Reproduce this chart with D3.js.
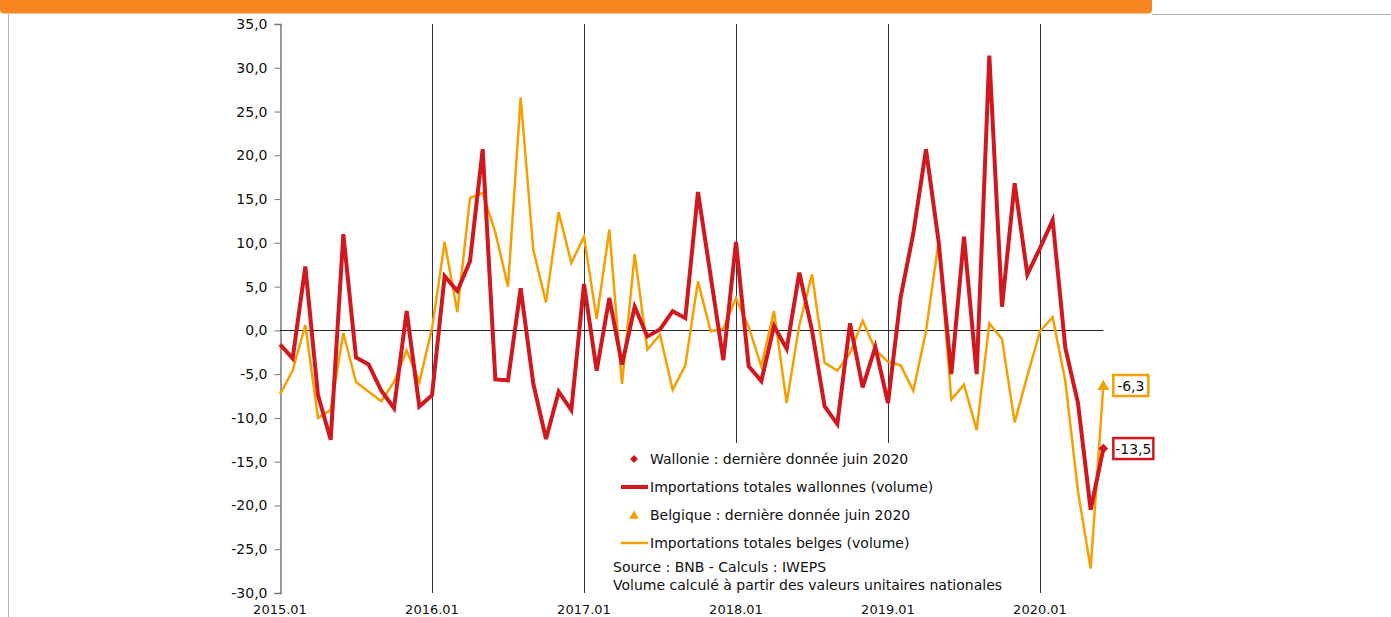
<!DOCTYPE html>
<html>
<head>
<meta charset="utf-8">
<script src="https://cdn.jsdelivr.net/npm/d3@7"></script>
<style>
  body { margin: 0; background: #fff; }
  svg { display: block; font-family: "DejaVu Sans", sans-serif; }
</style>
</head>
<body>
<div id="chart"></div>
<script>
/**
 * DATA
 * */
const years = [2015, 2016, 2017, 2018, 2019, 2020];
const lastMonth = 6; // juin 2020

// variations (%) des importations totales wallonnes (volume)
const wallonie = [
  -1.6, -3.2, 7.3, -7.4, -12.5, 11.0, -3.1, -3.9, -6.9, -8.9, 2.2, -8.7,
  -7.4, 6.2, 4.5, 7.9, 20.7, -5.6, -5.7, 4.8, -6.1, -12.4, -7.0, -9.1,
  5.3, -4.6, 3.7, -3.9, 2.7, -0.7, 0.1, 2.2, 1.4, 15.8, 6.2, -3.4,
  10.1, -4.1, -5.8, 0.5, -2.1, 6.6, 0.0, -8.7, -10.7, 0.8, -6.5, -1.9,
  -8.3, 3.8, 11.1, 20.7, 10.1, -5.0, 10.7, -5.0, 31.4, 2.7, 16.8, 6.4,
  9.4, 12.6, -2.0, -8.3, -20.5, -13.5
];

// variations (%) des importations totales belges (volume)
const belgique = [
  -7.3, -4.6, 0.6, -10.0, -9.1, -0.3, -5.9, -7.0, -8.1, -5.9, -2.3, -5.9,
  0.2, 10.1, 2.1, 15.1, 15.7, 11.2, 5.0, 26.6, 9.2, 3.2, 13.5, 7.7,
  10.7, 1.3, 11.5, -6.1, 8.7, -2.2, -0.5, -6.8, -4.0, 5.6, -0.1, 0.2,
  3.7, 0.4, -4.1, 2.2, -8.3, 0.6, 6.4, -3.7, -4.6, -2.6, 1.1, -2.2,
  -3.6, -4.0, -6.9, -0.1, 10.2, -7.9, -6.2, -11.4, 0.8, -1.0, -10.5, -5.2,
  -0.1, 1.5, -5.8, -18.4, -27.2, -6.3
];

const yTicks = [-30, -25, -20, -15, -10, -5, 0, 5, 10, 15, 20, 25, 30, 35];

const legendItems = [
  { label: "Wallonie : dernière donnée juin 2020", type: "diamond", color: "#d0181e" },
  { label: "Importations totales wallonnes (volume)", type: "line", color: "#d0181e", w: 4 },
  { label: "Belgique : dernière donnée juin 2020", type: "triangle", color: "#f5a000" },
  { label: "Importations totales belges (volume)", type: "line", color: "#f5a000", w: 2.5 },
];
const notes = [
  "Source : BNB - Calculs : IWEPS",
  "Volume calculé à partir des valeurs unitaires nationales",
];

// month categories "2015.01" ... "2020.06"
const months = [];
years.forEach(yr => {
  for (let m = 1; m <= 12; m++) {
    if (yr === 2020 && m > lastMonth) break;
    months.push(`${yr}.${String(m).padStart(2, "0")}`);
  }
});

/**
 * CONSTANTS
 * */
const width = 1391, height = 617;
const RED = "#d0181e", ORANGE = "#f5a000";
// comma decimals, plain hyphen for negatives
const fmt = d => d3.format(".1f")(d).replace(".", ",").replace("\u2212", "-");

const svg = d3.select("#chart").append("svg")
  .attr("width", width)
  .attr("height", height);

// page frame
svg.append("rect")
  .attr("x", 0).attr("y", -10)
  .attr("width", 1152).attr("height", 23.5)
  .attr("rx", 4)
  .attr("fill", "#f58620");
svg.append("line")
  .attr("x1", 1152).attr("x2", width).attr("y1", 14.5).attr("y2", 14.5)
  .attr("stroke", "#b5b5b5");
svg.append("line")
  .attr("x1", 8.5).attr("x2", 8.5).attr("y1", 14).attr("y2", height)
  .attr("stroke", "#b5b5b5");

/**
 * SCALES
 * */
const x = d3.scalePoint()
  .domain(months)
  .range([280, 280 + (months.length - 1) * (152 / 12)]);

const y = d3.scaleLinear()
  .domain([-30, 35])
  .range([593, 24]);

// vertical year lines
const yearCats = years.map(yr => `${yr}.01`);
svg.append("g")
  .selectAll("line")
  .data(yearCats.slice(1))
  .join("line")
  .attr("x1", d => Math.round(x(d)) + 0.5)
  .attr("x2", d => Math.round(x(d)) + 0.5)
  .attr("y1", y(35))
  .attr("y2", y(-30))
  .attr("stroke", "#333")
  .attr("stroke-width", 1);

// y axis
const yAxis = svg.append("g")
  .attr("transform", `translate(${Math.round(x(months[0])) + 0.5},0)`)
  .call(d3.axisLeft(y).tickValues(yTicks).tickSize(6).tickPadding(7).tickFormat(fmt));
yAxis.select(".domain").attr("stroke", "#777").attr("stroke-width", 1.5);
yAxis.selectAll(".tick line").attr("stroke", "#777");
yAxis.selectAll(".tick text")
  .attr("fill", "#111")
  .style("font-family", "DejaVu Sans, sans-serif")
  .style("font-size", "14px");

// x labels
svg.append("g")
  .selectAll("text")
  .data(yearCats)
  .join("text")
  .attr("x", d => x(d))
  .attr("y", 614)
  .attr("text-anchor", "middle")
  .attr("fill", "#111")
  .style("font-size", "13px")
  .text(d => d);

// zero line
svg.append("line")
  .attr("x1", x(months[0]))
  .attr("x2", x(months[months.length - 1]))
  .attr("y1", Math.round(y(0)) + 0.5)
  .attr("y2", Math.round(y(0)) + 0.5)
  .attr("stroke", "#222");

// legend background hides the gridlines
const lg = svg.append("g");
lg.append("rect")
  .attr("x", 610).attr("y", 443)
  .attr("width", 400).attr("height", 150)
  .attr("fill", "#fff");

// series lines
const line = d3.line()
  .x((d, i) => x(months[i]))
  .y(d => y(d));

svg.append("path")
  .datum(belgique)
  .attr("d", line)
  .attr("fill", "none")
  .attr("stroke", ORANGE)
  .attr("stroke-width", 2.5)
  .attr("stroke-linejoin", "miter");

svg.append("path")
  .datum(wallonie)
  .attr("d", line)
  .attr("fill", "none")
  .attr("stroke", RED)
  .attr("stroke-width", 4)
  .attr("stroke-linejoin", "miter");

// last points markers + labels
const lastIdx = months.length - 1;
const lastX = x(months[lastIdx]);

svg.append("path")
  .attr("d", d3.symbol(d3.symbolTriangle, 60)())
  .attr("transform", `translate(${lastX},${y(belgique[lastIdx]) + 1})`)
  .attr("fill", ORANGE);
svg.append("path")
  .attr("d", d3.symbol(d3.symbolDiamond2, 60)())
  .attr("transform", `translate(${lastX},${y(wallonie[lastIdx])})`)
  .attr("fill", RED);

const tags = [
  { v: belgique[lastIdx], color: ORANGE, w: 35 },
  { v: wallonie[lastIdx], color: RED, w: 40 },
];
tags.forEach(t => {
  const g = svg.append("g").attr("transform", `translate(${lastX + 10},${y(t.v)})`);
  g.append("rect")
    .attr("x", 0).attr("y", -10.5)
    .attr("width", t.w).attr("height", 21)
    .attr("fill", "#fff")
    .attr("stroke", t.color)
    .attr("stroke-width", 2.5);
  g.append("text")
    .attr("x", t.w / 2).attr("y", 0)
    .attr("dy", "0.36em")
    .attr("text-anchor", "middle")
    .attr("fill", "#111")
    .style("font-size", "14px")
    .text(fmt(t.v));
});

// legend
const rows = lg.selectAll("g.row")
  .data(legendItems)
  .join("g")
  .attr("class", "row")
  .attr("transform", (d, i) => `translate(0,${459 + i * 28})`);

rows.each(function (d) {
  const g = d3.select(this);
  if (d.type === "line") {
    g.append("line")
      .attr("x1", 621).attr("x2", 648)
      .attr("stroke", d.color).attr("stroke-width", d.w);
  } else {
    const sym = d.type === "diamond" ? d3.symbolDiamond2 : d3.symbolTriangle;
    g.append("path")
      .attr("d", d3.symbol(sym, 40)())
      .attr("transform", `translate(634,${d.type === "triangle" ? 1 : 0})`)
      .attr("fill", d.color);
  }
});
rows.append("text")
  .attr("x", 650)
  .attr("dy", "0.36em")
  .attr("fill", "#111")
  .style("font-size", "14px")
  .text(d => d.label);

lg.selectAll("text.note")
  .data(notes)
  .join("text")
  .attr("class", "note")
  .attr("x", 613)
  .attr("y", (d, i) => 567 + i * 18)
  .attr("dy", "0.36em")
  .attr("fill", "#111")
  .style("font-size", "14px")
  .text(d => d);
</script>
</body>
</html>
